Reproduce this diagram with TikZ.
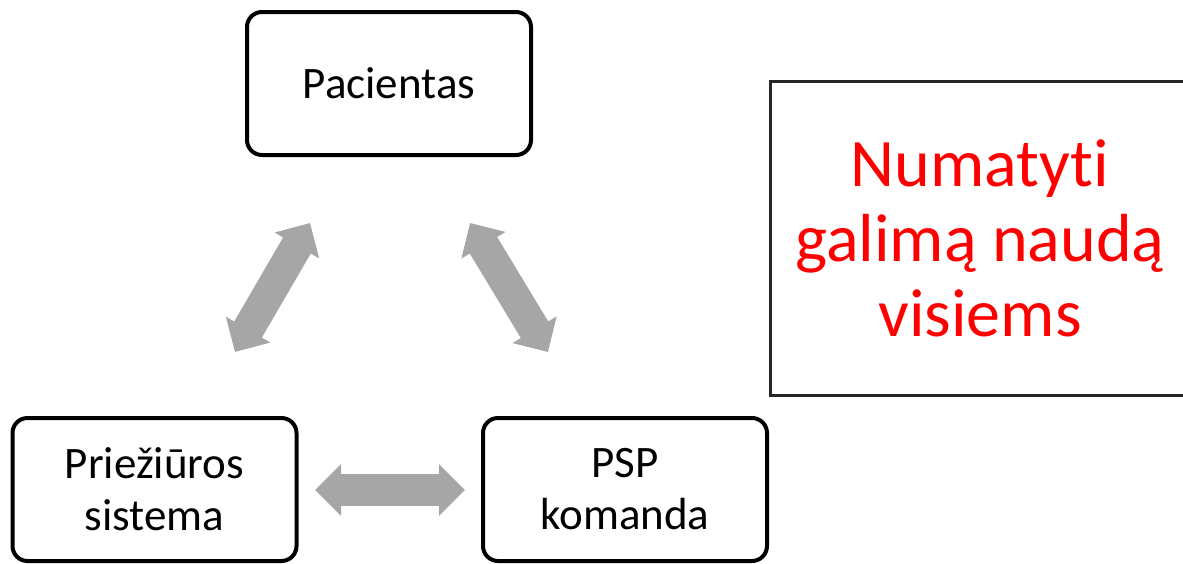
\documentclass[tikz,border=0pt]{standalone}
\usepackage{fontspec}
\setmainfont{Carlito}[Ligatures=NoCommon]
\usetikzlibrary{arrows.meta,positioning}
\definecolor{arrowgray}{RGB}{166,166,166}
\tikzset{
    box/.style={
        draw,
        line width=4pt,
        rounded corners=15pt,
        align=center,
        minimum width=284pt,
        minimum height=143pt,
        inner sep=0pt,
        font=\fontsize{45}{52}\selectfont
    },
    goal/.style={
        draw=black!85,
        line width=3pt,
        align=center,
        minimum width=420pt,
        minimum height=314pt,
        inner sep=0pt,
        text=red,
        font=\fontsize{68}{75}\selectfont
    },
    fatarrow/.style={
        arrowgray,
        line width=32pt,
        {Triangle[length=26pt,width=50pt]}-{Triangle[length=26pt,width=50pt]}
    }
}

\begin{document}
\begin{tikzpicture}[x=1pt,y=-1pt]
  \useasboundingbox (0,0) rectangle (1183,563);
  \node[box] (pac) at (389,83.5) {Pacientas};
  \node[box] (pri) at (154.5,489.5) {Priežiūros\\sistema};
  \node[box] (psp) at (625,489.5) {PSP\\komanda};
  \node[goal] (goal) at (980,238) {Numatyti\\galimą naudą\\visiems};
  % arrow ends
  \coordinate (l1) at (235,352);
  \coordinate (l2) at (310,223);
  \coordinate (r1) at (470,223);
  \coordinate (r2) at (548,352);
  \coordinate (b1) at (315,490);
  \coordinate (b2) at (465,490);
  \foreach \s/\t in {l1/l2,r1/r2,b1/b2}
    \draw[fatarrow] (\s) -- (\t);
\end{tikzpicture}
\end{document}
